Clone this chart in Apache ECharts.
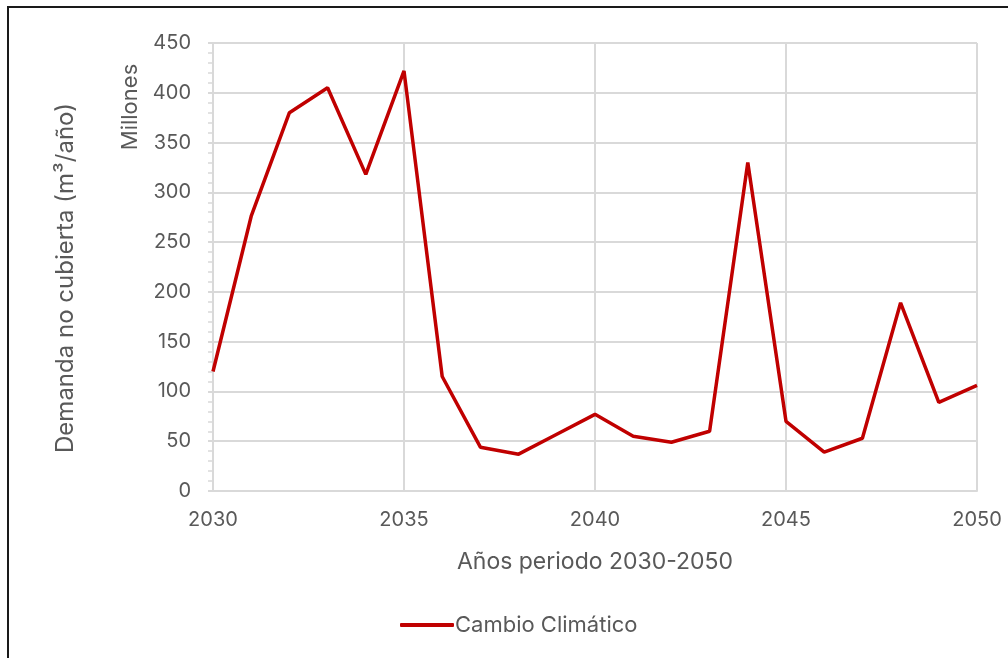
<!DOCTYPE html>
<html>
<head>
<meta charset="utf-8">
<script src="https://cdn.jsdelivr.net/npm/echarts@6/dist/echarts.min.js"></script>
<style>
html,body{margin:0;padding:0;background:#fff;}
#frame{position:absolute;left:7px;top:6px;width:1100px;height:700px;border-left:2px solid #1a1a1a;border-top:2px solid #1a1a1a;}
#chart{position:absolute;left:0;top:0;width:1008px;height:658px;}
</style>
</head>
<body>
<div id="frame"></div>
<div id="chart"></div>
<script>
const years = [2030,2031,2032,2033,2034,2035,2036,2037,2038,2039,2040,2041,2042,2043,2044,2045,2046,2047,2048,2049,2050];
const values = [120,276,380,405,318,422,115,44,37,57,77,55,49,60,330,70,39,53,189,89,106];
const seriesName = 'Cambio Climático';
const xTitle = 'Años periodo 2030-2050';
const yTitle = 'Demanda no cubierta (m³/año)';
const unitLabel = 'Millones';

const chart = echarts.init(document.getElementById('chart'));
const font = 'Inter, "Liberation Sans", sans-serif';
const txt = '#595959';
const grid = '#d9d9d9';
chart.setOption({
  animation: false,
  backgroundColor: 'transparent',
  grid: {left: 213, right: 31, top: 43, bottom: 167, containLabel: false},
  xAxis: {
    type: 'value', min: 2030, max: 2050, interval: 5,
    name: xTitle, nameLocation: 'middle', nameGap: 60,
    nameTextStyle: {color: txt, fontSize: 23, fontFamily: font},
    axisLine: {show: true, lineStyle: {color: grid, width: 2}},
    axisTick: {show: false},
    axisLabel: {color: txt, fontSize: 20, fontFamily: font, margin: 19, formatter: v => String(v)},
    splitLine: {show: true, lineStyle: {color: grid, width: 2}}
  },
  yAxis: {
    type: 'value', min: 0, max: 450, interval: 50,
    axisLine: {show: true, lineStyle: {color: grid, width: 2}},
    axisTick: {show: true, length: 5, lineStyle: {color: grid, width: 2}},
    minorTick: {show: true, splitNumber: 5, length: 5, lineStyle: {color: grid, width: 1.5}},
    axisLabel: {color: txt, fontSize: 20, fontFamily: font, margin: 22},
    splitLine: {show: true, lineStyle: {color: grid, width: 2}}
  },
  legend: {
    left: 395, top: 609,
    icon: 'roundRect',
    itemWidth: 54, itemHeight: 4, itemGap: 10,
    textStyle: {color: txt, fontSize: 22, fontFamily: font, padding: [0,0,0,-4]},
    data: [seriesName]
  },
  graphic: [{
    type: 'text', x: 66, y: 278, rotation: Math.PI/2,
    style: {text: yTitle, fill: txt, fontSize: 24, fontFamily: font, align: 'center', verticalAlign: 'middle'}
  }, {
    type: 'text', x: 130, y: 107, rotation: Math.PI/2,
    style: {text: unitLabel, fill: txt, fontSize: 22, fontFamily: font, align: 'center', verticalAlign: 'middle'}
  }],
  series: [{
    name: seriesName, type: 'line', symbol: 'none',
    lineStyle: {color: '#C00000', width: 3.5},
    itemStyle: {color: '#C00000'},
    data: years.map((y, i) => [y, values[i]])
  }]
});
</script>
</body>
</html>
